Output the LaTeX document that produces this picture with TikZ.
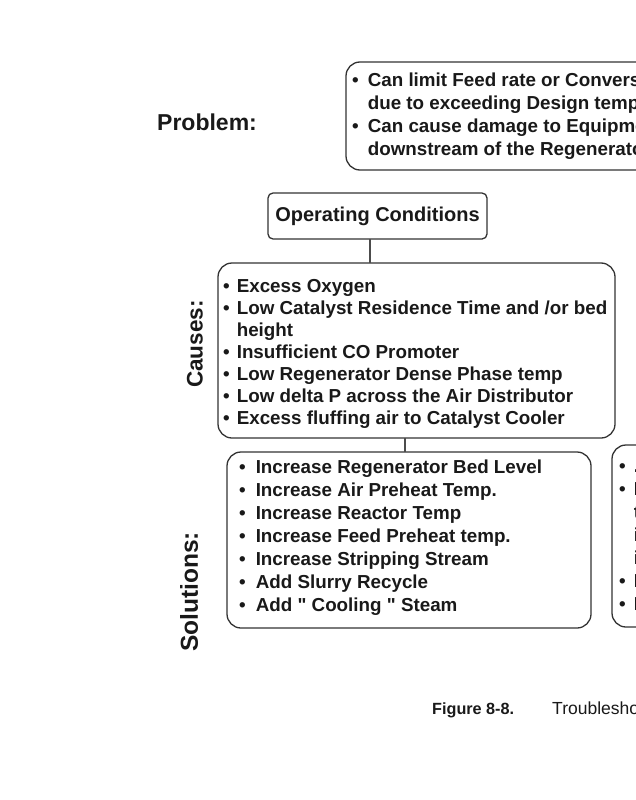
\documentclass[tikz,border=0pt]{standalone}
\usepackage{fontspec}
\setmainfont{Liberation Sans}
\begin{document}
\begin{tikzpicture}[x=1pt,y=-1pt,
  box/.style={draw=black!80, line width=1.3pt, rounded corners=14pt, inner sep=0pt},
  smallbox/.style={draw=black!80, line width=1.3pt, rounded corners=5pt, inner sep=0pt},
  conn/.style={draw=black!70, line width=1.6pt},
  lstA/.style={inner sep=0pt, anchor=base west, text=black!90, font=\bfseries\fontsize{18.8}{22}\selectfont},
  lstB/.style={inner sep=0pt, anchor=base west, text=black!90, font=\bfseries\fontsize{18.8}{23}\selectfont},
  lbl/.style={inner sep=0pt, text=black!90, font=\bfseries\fontsize{23}{23}\selectfont}]
\useasboundingbox (0,0) rectangle (636,800);
\clip (0,0) rectangle (636,800);

% boxes
\node[box, minimum width=414pt, minimum height=108pt] (prob) at (553,116) {};
\node[smallbox, minimum width=219pt, minimum height=46pt] (oc) at (377.5,216) {};
\node[box, minimum width=397pt, minimum height=175pt] (causes) at (416.5,350.5) {};
\node[box, minimum width=364pt, minimum height=176pt] (sol) at (409,540) {};
\node[box, minimum width=300pt, minimum height=182pt] (sol2) at (762,536) {};

% connectors
\coordinate (ocb) at (370,239);
\coordinate (cat) at (370,263);
\draw[conn] (ocb) -- (cat);
\coordinate (cab) at (405,438);
\coordinate (sot) at (405,452);
\draw[conn] (cab) -- (sot);

% labels
\node[lbl, anchor=base west] (problbl) at (157,130) {Problem:};
\node[lbl, rotate=90, font=\bfseries\fontsize{22.5}{22.5}\selectfont] (causeslbl) at (195,344) {Causes:};
\node[lbl, rotate=90, font=\bfseries\fontsize{24.5}{24.5}\selectfont] (sollbl) at (189,592) {Solutions:};

% operating conditions
\node[inner sep=0pt, text=black!90, font=\bfseries\fontsize{20}{20}\selectfont] (octext) at (oc) {Operating Conditions};

% problem text
\node[lstB] (probtext) at (352,86) {\begin{tabular}[t]{@{}l@{\hspace{9pt}}l@{}}
\textbullet & Can limit Feed rate or Conversion\\
 & due to exceeding Design temperatures\\
\textbullet & Can cause damage to Equipment\\
 & downstream of the Regenerator
\end{tabular}};

% causes text
\node[lstA] (causestext) at (223,292) {\begin{tabular}[t]{@{}l@{\hspace{7pt}}l@{}}
\textbullet & Excess Oxygen\\
\textbullet & Low Catalyst Residence Time and /or bed\\
 & height\\
\textbullet & Insufficient CO Promoter\\
\textbullet & Low Regenerator Dense Phase temp\\
\textbullet & Low delta P across the Air Distributor\\
\textbullet & Excess fluffing air to Catalyst Cooler
\end{tabular}};

% solutions text
\node[lstB] (soltext) at (239,473) {\begin{tabular}[t]{@{}l@{\hspace{10pt}}l@{}}
\textbullet & Increase Regenerator Bed Level\\
\textbullet & Increase Air Preheat Temp.\\
\textbullet & Increase Reactor Temp\\
\textbullet & Increase Feed Preheat temp.\\
\textbullet & Increase Stripping Stream\\
\textbullet & Add Slurry Recycle\\
\textbullet & Add \textquotedbl{} Cooling \textquotedbl{} Steam
\end{tabular}};

% second solutions box text (cut off at the right edge)
\node[lstB] (sol2text) at (619,472) {\begin{tabular}[t]{@{}l@{\hspace{8pt}}l@{}}
\textbullet & .\\
\textbullet & Increase\\
 & the\\
 & in\\
 & in\\
\textbullet & Increase\\
\textbullet & Increase
\end{tabular}};

% caption
\node[inner sep=0pt, anchor=base west, text=black!90, font=\bfseries\fontsize{16.2}{16}\selectfont] (figlbl) at (432,714) {Figure 8-8.};
\node[inner sep=0pt, anchor=base west, text=black!90, font=\fontsize{17.5}{17}\selectfont] (figtxt) at (552,714) {Troubleshooting};
\end{tikzpicture}
\end{document}
